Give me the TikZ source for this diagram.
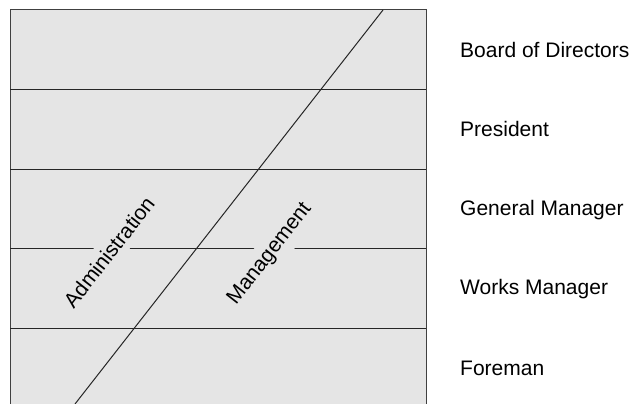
\documentclass[tikz,border=0pt]{standalone}
\usepackage{fontspec}
\setmainfont{Liberation Sans}
\usetikzlibrary{positioning}

\begin{document}
\begin{tikzpicture} [x = 1pt, y = 1pt, font = \fontsize{21}{24}\selectfont,
  rank/.style = {anchor = base west, inner sep = 0pt},
  slant/.style = {rotate = 52, fill = gray!20, inner xsep = 1pt, inner ysep = 6.5pt},
  rule/.style = {draw = black!85, line width = 1pt}]
\useasboundingbox (0,0) rectangle (633,404);
\fill[gray!20] (10,0) rectangle (426,394);
\draw[draw = black!75, line width = 1pt] (10,0) -- (10,394) -- (426,394) -- (426,0);
\foreach \y in {314, 234, 155, 75}
  \draw[rule] (10,\y) -- (426,\y);
\coordinate (top) at (383,394);
\coordinate (bot) at (75,0);
\draw[rule] (top) -- (bot);
\node[slant] (adm) at (109,152) {Administration};
\node[slant] (mgt) at (270,150) {Management};
\node[rank] (bod) at (460,346) {Board of Directors};
\node[rank] (pre) at (460,267) {President};
\node[rank] (gm) at (460,188) {General Manager};
\node[rank] (wm) at (460,109) {Works Manager};
\node[rank] (fm) at (460,28) {Foreman};
\end{tikzpicture}
\end{document}
